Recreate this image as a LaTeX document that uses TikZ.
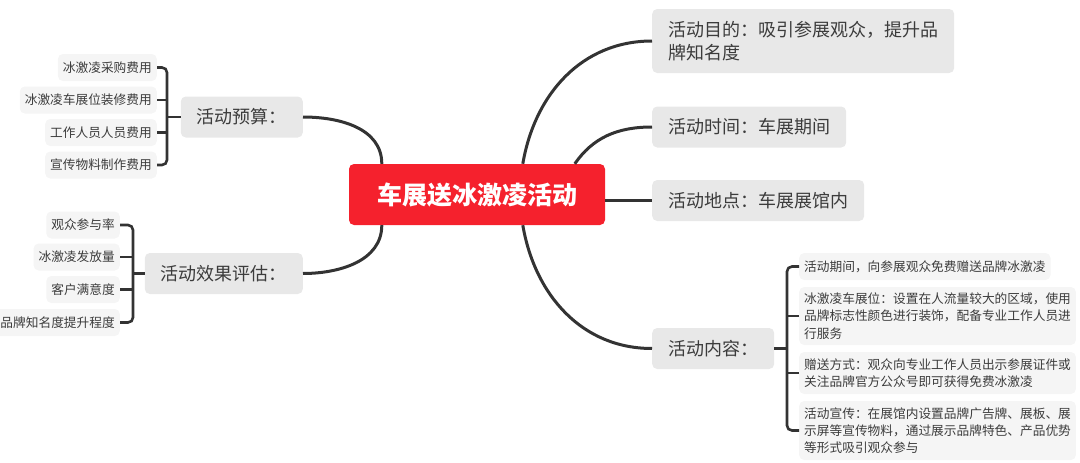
\documentclass[tikz,border=0pt]{standalone}
\usepackage{fontspec}
\setmainfont{Noto Sans CJK SC}
\definecolor{linec}{HTML}{333333}
\definecolor{rootred}{HTML}{F5212D}
\definecolor{topicgray}{HTML}{E8E8E8}
\definecolor{leafgray}{HTML}{F5F5F5}
\definecolor{textc}{HTML}{3C3C3C}
\begin{document}
\begin{tikzpicture}[x=1pt,y=-1pt,
  conn/.style={draw=linec, line width=3pt},
  brk/.style={draw=linec, line width=2.6pt, rounded corners=5pt},
  root/.style={fill=rootred, rounded corners=5pt, text=white, font=\fontsize{25}{30}\selectfont\bfseries, minimum width=256pt, minimum height=61pt, inner sep=0pt},
  topic/.style={fill=topicgray, rounded corners=5pt, text=textc, font=\fontsize{18}{23}\selectfont, inner xsep=16pt, inner ysep=0pt, minimum height=41pt, align=left},
  leaf/.style={fill=leafgray, rounded corners=5pt, text=textc, font=\fontsize{12.7}{17.3}\selectfont, inner xsep=5pt, inner ysep=0pt, minimum height=27pt, align=left},
]
\useasboundingbox (0,0) rectangle (1080,463);

% root
\node[root] (c) at (477,194.5) {车展送冰激凌活动};

% main topics
\node[topic, anchor=west, minimum height=64pt] (t1) at (652,41) {活动目的：吸引参展观众，提升品\\牌知名度};
\node[topic, anchor=west] (t2) at (652,127) {活动时间：车展期间};
\node[topic, anchor=west] (t3) at (652,200.5) {活动地点：车展展馆内};
\node[topic, anchor=west] (t4) at (652,348.5) {活动内容：};
\node[topic, anchor=east] (t5) at (303,117) {活动预算：};
\node[topic, anchor=east] (t6) at (303,273.5) {活动效果评估：};

% budget leaves
\node[leaf, anchor=east] (a1) at (157,67.5) {冰激凌采购费用};
\node[leaf, anchor=east] (a2) at (157,100) {冰激凌车展位装修费用};
\node[leaf, anchor=east] (a3) at (157,132.5) {工作人员人员费用};
\node[leaf, anchor=east] (a4) at (157,165) {宣传物料制作费用};

% evaluation leaves
\node[leaf, anchor=east] (b1) at (120,225) {观众参与率};
\node[leaf, anchor=east] (b2) at (120,257) {冰激凌发放量};
\node[leaf, anchor=east] (b3) at (120,289.5) {客户满意度};
\node[leaf, anchor=east] (b4) at (120,322.5) {品牌知名度提升程度};

% content leaves
\node[leaf, anchor=west] (r1) at (799,266.5) {活动期间，向参展观众免费赠送品牌冰激凌};
\node[leaf, anchor=west, minimum height=58pt] (r2) at (799,316) {冰激凌车展位：设置在人流量较大的区域，使用\\品牌标志性颜色进行装饰，配备专业工作人员进\\行服务};
\node[leaf, anchor=west, minimum height=42pt] (r3) at (799,373) {赠送方式：观众向专业工作人员出示参展证件或\\关注品牌官方公众号即可获得免费冰激凌};
\node[leaf, anchor=west, minimum height=59pt] (r4) at (799,430.5) {活动宣传：在展馆内设置品牌广告牌、展板、展\\示屏等宣传物料，通过展示品牌特色、产品优势\\等形式吸引观众参与};

% bracket x positions
\coordinate (k1) at (167,0);
\coordinate (k2) at (133,0);
\coordinate (k3) at (787,0);

% main branches
\draw[conn] ([xshift=174pt]c.north west) .. controls +(12,-70) and +(-70,0) .. (t1.west);
\draw[conn] ([xshift=226pt]c.north west) .. controls +(18,-26) and +(-35,0) .. (t2.west);
\draw[conn] (c.east |- t3.west) -- (t3.west);
\draw[conn] ([xshift=174pt]c.south west) .. controls +(12,70) and +(-70,0) .. (t4.west);
\draw[conn] ([xshift=33pt]c.north west) .. controls +(0,-36) and +(36,0) .. (t5.east);
\draw[conn] ([xshift=33pt]c.south west) .. controls +(0,36) and +(36,0) .. (t6.east);

% budget bracket
\draw[brk] (a1.east) -- (a1.east -| k1) -- (a4.east -| k1) -- (a4.east);
\draw[brk] (a2.east) -- (a2.east -| k1);
\draw[brk] (a3.east) -- (a3.east -| k1);
\draw[brk] (k1 |- t5.west) -- (t5.west);

% evaluation bracket
\draw[brk] (b1.east) -- (b1.east -| k2) -- (b4.east -| k2) -- (b4.east);
\draw[brk] (b2.east) -- (b2.east -| k2);
\draw[brk] (b3.east) -- (b3.east -| k2);
\draw[brk] (k2 |- t6.west) -- (t6.west);

% content bracket
\draw[brk] (r1.west) -- (r1.west -| k3) -- (r4.west -| k3) -- (r4.west);
\draw[brk] (r2.west) -- (r2.west -| k3);
\draw[brk] (r3.west) -- (r3.west -| k3);
\draw[brk] (t4.east) -- (t4.east -| k3);
\end{tikzpicture}
\end{document}
